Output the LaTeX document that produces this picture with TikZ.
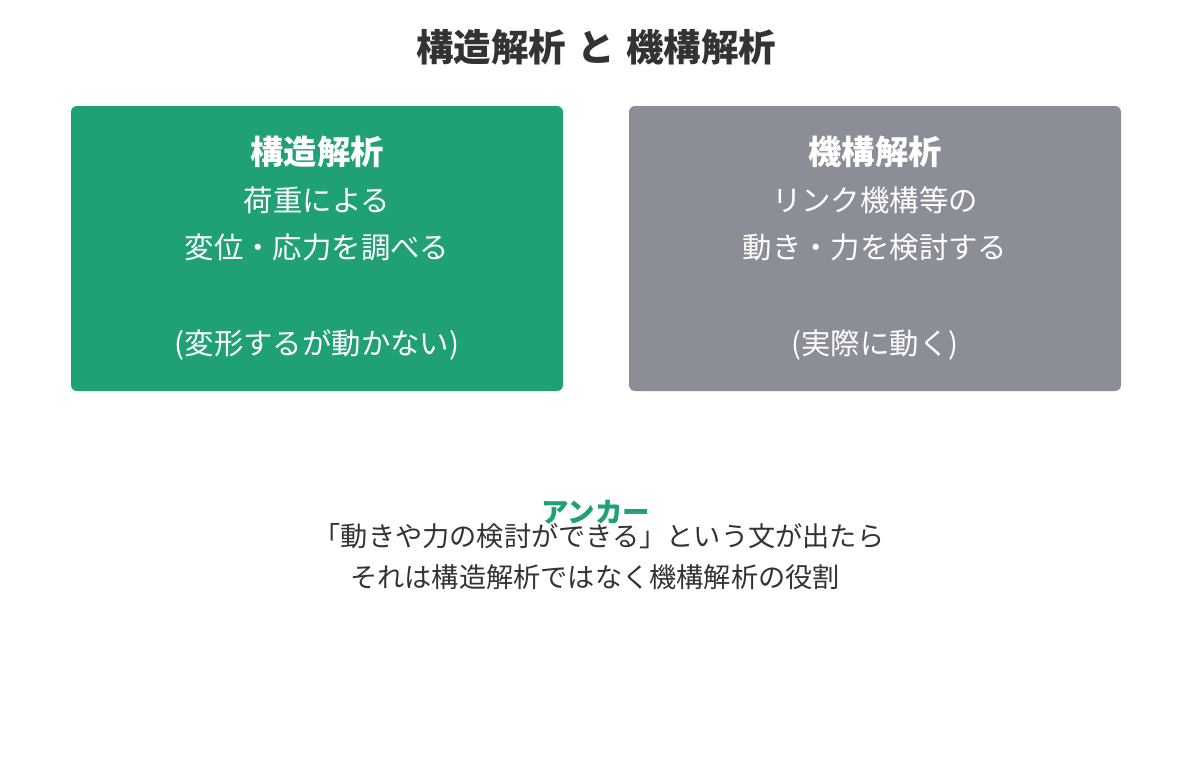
\documentclass[tikz,border=0pt]{standalone}
\usepackage{fontspec}
\newfontfamily\cjk{Noto Sans CJK JP}
\usetikzlibrary{positioning}
\definecolor{structgreen}{HTML}{1FA075}
\definecolor{mechgray}{HTML}{8B8E97}
\definecolor{textdark}{HTML}{333333}
\tikzset{
    %Define style for the two boxes
    panel/.style={
           rectangle,
           rounded corners=6pt,
           minimum width=492pt,
           minimum height=285pt,
           inner sep=0pt},
    %Define styles for texts
    headline/.style={
           anchor=base,
           text=white,
           font=\cjk\bfseries\fontsize{33.3}{38}\selectfont},
    body/.style={
           anchor=base,
           text=white,
           font=\cjk\fontsize{29.4}{34}\selectfont},
    note/.style={
           anchor=base,
           text=textdark,
           font=\cjk\fontsize{27.2}{32}\selectfont}
}
\begin{document}
\begin{tikzpicture}[x=1pt,y=-1pt]
\useasboundingbox[fill=white] (0,0) rectangle (1192,780);
\node[anchor=base,text=textdark,font=\cjk\bfseries\fontsize{37.5}{42}\selectfont](title) at (596,61){構造解析\hspace{0.3em}と\hspace{0.3em}機構解析};
% boxes
\node[panel,fill=structgreen](struct) at (317,248.5){};
\node[panel,fill=mechgray](mech) at (875,248.5){};
% structural analysis
\node[headline](s1) at (317,164){構造解析};
\node[body](s2) at (317,211){荷重による};
\node[body](s3) at (317,258){変位・応力を調べる};
\node[body](s4) at (317,354){(変形するが動かない)};
% mechanism analysis
\node[headline](m1) at (875,164){機構解析};
\node[body](m2) at (875,211){リンク機構等の};
\node[body](m3) at (875,258){動き・力を検討する};
\node[body](m4) at (875,354){(実際に動く)};
% bottom note
\node[anchor=base,text=structgreen,font=\cjk\bfseries\fontsize{27.5}{32}\selectfont](anchor) at (596,522){アンカー};
\node[note](n1) at (599,546){「動きや力の検討ができる」という文が出たら};
\node[note](n2) at (595,587){それは構造解析ではなく機構解析の役割};
\end{tikzpicture}
\end{document}
